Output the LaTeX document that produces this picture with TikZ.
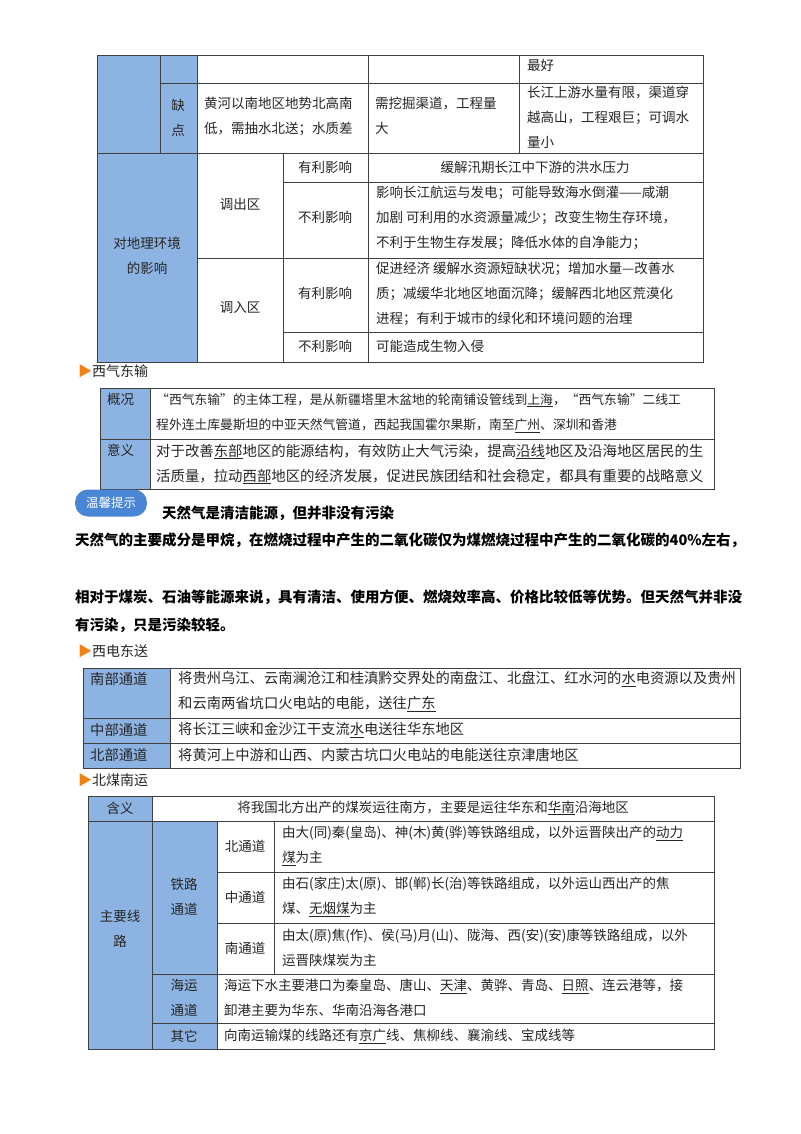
\documentclass[tikz,border=0pt]{standalone}
\usepackage{fontspec}
\setmainfont{Noto Sans CJK SC}
\definecolor{cb}{RGB}{141,179,226}
\definecolor{tipb}{RGB}{74,134,214}
\definecolor{arr}{RGB}{240,130,20}
\begin{document}
\begin{tikzpicture}[x=1pt,y=-1pt,
  tl/.style={draw=black!75,line width=0.8pt},
  bc/.style={tl,fill=cb},
  t/.style={font=\fontsize{13.5}{25}\selectfont,align=left,inner sep=0pt,anchor=west,text=black!85},
  tc/.style={font=\fontsize{13.5}{25}\selectfont,align=center,inner sep=0pt,text=black!85},
  hd/.style={font=\fontsize{14}{18}\selectfont,inner sep=0pt,anchor=west,text=black!85},
  bp/.style={font=\fontsize{14.5}{28}\selectfont\bfseries,inner sep=0pt,anchor=west,align=left}]
\useasboundingbox[fill=white] (0,0) rectangle (800,1134);
% ---------- table 1
\filldraw[bc] (97,55) rectangle (160,153);
\filldraw[bc] (160,55) rectangle (197,83);
\filldraw[bc] (160,83) rectangle (197,153);
\filldraw[bc] (97,153) rectangle (197,362);
\draw[tl] (197,55) rectangle (368,83) (368,55) rectangle (519,83) (519,55) rectangle (703,83);
\draw[tl] (197,83) rectangle (368,153) (368,83) rectangle (519,153) (519,83) rectangle (703,153);
\draw[tl] (197,153) rectangle (283,258) (197,258) rectangle (283,362);
\draw[tl] (283,153) rectangle (368,182) (283,182) rectangle (368,258) (283,258) rectangle (368,332) (283,332) rectangle (368,362);
\draw[tl] (368,153) rectangle (703,182) (368,182) rectangle (703,258) (368,258) rectangle (703,332) (368,332) rectangle (703,362);
\node[t] (a1) at (527,65) {最好};
\node[tc] (a2) at (178,118) {缺\\点};
\node[t] (a3) at (204,116) {黄河以南地区地势北高南\\低，需抽水北送；水质差};
\node[t] (a4) at (375,116) {需挖掘渠道，工程量\\大};
\node[t] (a5) at (527,117) {长江上游水量有限，渠道穿\\越高山，工程艰巨；可调水\\量小};
\node[tc] (a6) at (147,256) {对地理环境\\的影响};
\node[tc] (a7) at (240,204) {调出区};
\node[tc] (a8) at (240,308) {调入区};
\node[tc] (a9) at (325,167) {有利影响};
\node[tc] (a10) at (325,217) {不利影响};
\node[tc] (a11) at (325,293) {有利影响};
\node[tc] (a12) at (325,346) {不利影响};
\node[tc] (a13) at (535,167) {缓解汛期长江中下游的洪水压力};
\node[t] (a14) at (376,218) {影响长江航运与发电；可能导致海水倒灌——咸潮\\加剧\ 可利用的水资源量减少；改变生物生存环境，\\不利于生物生存发展；降低水体的自净能力；};
\node[t] (a15) at (376,294) {促进经济\ 缓解水资源短缺状况；增加水量—改善水\\质；减缓华北地区地面沉降；缓解西北地区荒漠化\\进程；有利于城市的绿化和环境问题的治理};
\node[t] (a16) at (376,346) {可能造成生物入侵};
% ---------- 西气东输
\node[hd] (h1) at (78,371) {\textcolor{arr}{▶}西气东输};
\filldraw[bc] (100,388) rectangle (150,439);
\filldraw[bc] (100,439) rectangle (150,489);
\draw[tl] (150,388) rectangle (714,439) (150,439) rectangle (714,489);
\node[t] (b1) at (107,399) {概况};
\node[t] (b2) at (107,450) {意义};
\node[t,font=\fontsize{12.8}{25}\selectfont] (b3) at (156,413) {“西气东输”的主体工程，是从新疆塔里木盆地的轮南铺设管线到\underline{上海}，“西气东输”二线工\\程外连土库曼斯坦的中亚天然气管道，西起我国霍尔果斯，南至\underline{广州}、深圳和香港};
\node[t,font=\fontsize{14.4}{25}\selectfont] (b4) at (156,464) {对于改善\underline{东部}地区的能源结构，有效防止大气污染，提高\underline{沿线}地区及沿海地区居民的生\\活质量，拉动\underline{西部}地区的经济发展，促进民族团结和社会稳定，都具有重要的战略意义};
% ---------- tip
\node[fill=tipb,rounded corners=13pt,minimum width=72pt,minimum height=27pt,inner sep=0pt,text=white,font=\fontsize{12.5}{14}\selectfont] (tip) at (111,503) {温馨提示};
\node[bp] (p0) at (162,513) {天然气是清洁能源，但并非没有污染};
\node[bp] (p1) at (75,540) {天然气的主要成分是甲烷，在燃烧过程中产生的二氧化碳仅为煤燃烧过程中产生的二氧化碳的40\%左右，};
\node[bp] (p2) at (75,611) {相对于煤炭、石油等能源来说，具有清洁、使用方便、燃烧效率高、价格比较低等优势。但天然气并非没\\有污染，只是污染较轻。};
% ---------- 西电东送
\node[hd] (h2) at (78,651) {\textcolor{arr}{▶}西电东送};
\filldraw[bc] (83,668) rectangle (170,718) (83,718) rectangle (170,743) (83,743) rectangle (170,768);
\draw[tl] (170,668) rectangle (740,718) (170,718) rectangle (740,743) (170,743) rectangle (740,768);
\node[t,font=\fontsize{14.3}{25}\selectfont] (c1) at (90,679) {南部通道};
\node[t,font=\fontsize{14.3}{25}\selectfont] (c2) at (90,730) {中部通道};
\node[t,font=\fontsize{14.3}{25}\selectfont] (c3) at (90,755) {北部通道};
\node[t,font=\fontsize{14.3}{25}\selectfont] (c4) at (178,692) {将贵州乌江、云南澜沧江和桂滇黔交界处的南盘江、北盘江、红水河的\underline{水}电资源以及贵州\\和云南两省坑口火电站的电能，送往\underline{广东}};
\node[t,font=\fontsize{14.3}{25}\selectfont] (c5) at (178,730) {将长江三峡和金沙江干支流\underline{水}电送往华东地区};
\node[t,font=\fontsize{14.3}{25}\selectfont] (c6) at (178,755) {将黄河上中游和山西、内蒙古坑口火电站的电能送往京津唐地区};
% ---------- 北煤南运
\node[hd] (h3) at (78,780) {\textcolor{arr}{▶}北煤南运};
\filldraw[bc] (88,796) rectangle (152,821) (88,821) rectangle (152,1049);
\filldraw[bc] (152,821) rectangle (217,974) (152,974) rectangle (217,1023) (152,1023) rectangle (217,1049);
\draw[tl] (152,796) rectangle (714,821);
\draw[tl] (217,821) rectangle (274,872) (217,872) rectangle (274,923) (217,923) rectangle (274,974);
\draw[tl] (274,821) rectangle (714,872) (274,872) rectangle (714,923) (274,923) rectangle (714,974);
\draw[tl] (217,974) rectangle (714,1023) (217,1023) rectangle (714,1049);
\node[tc] (d1) at (120,808) {含义};
\node[tc] (d2) at (433,808) {将我国北方出产的煤炭运往南方，主要是运往华东和\underline{华南}沿海地区};
\node[tc] (d3) at (120,929) {主要线\\路};
\node[tc] (d4) at (184,897) {铁路\\通道};
\node[tc] (d5) at (184,998) {海运\\通道};
\node[tc] (d6) at (184,1036) {其它};
\node[tc] (d7) at (245,846) {北通道};
\node[tc] (d8) at (245,897) {中通道};
\node[tc] (d9) at (245,948) {南通道};
\node[t] (d10) at (282,846) {由大(同)秦(皇岛)、神(木)黄(骅)等铁路组成，以外运晋陕出产的\underline{动力}\\\underline{煤}为主};
\node[t] (d11) at (282,897) {由石(家庄)太(原)、邯(郸)长(治)等铁路组成，以外运山西出产的焦\\煤、\underline{无烟煤}为主};
\node[t] (d12) at (282,948) {由太(原)焦(作)、侯(马)月(山)、陇海、西(安)(安)康等铁路组成，以外\\运晋陕煤炭为主};
\node[t] (d13) at (224,998) {海运下水主要港口为秦皇岛、唐山、\underline{天津}、黄骅、青岛、\underline{日照}、连云港等，接\\卸港主要为华东、华南沿海各港口};
\node[t] (d14) at (224,1036) {向南运输煤的线路还有\underline{京广}线、焦柳线、襄渝线、宝成线等};
\end{tikzpicture}
\end{document}
